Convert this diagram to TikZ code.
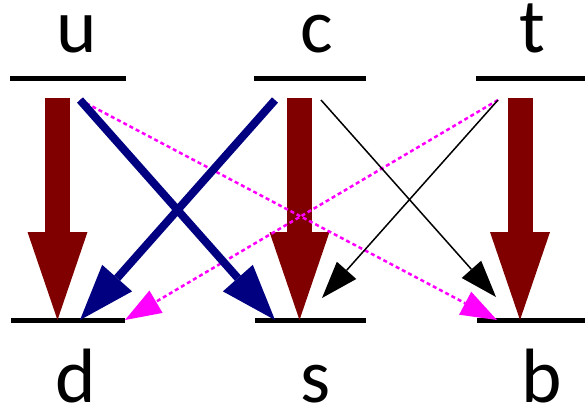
\documentclass[tikz,border=0pt]{standalone}
\usepackage{fontspec}
\setmainfont{Carlito}
\usetikzlibrary{arrows.meta}
\definecolor{fatred}{RGB}{128,0,0}
\definecolor{navyb}{RGB}{0,0,128}
\definecolor{magen}{RGB}{255,0,255}
\tikzset{
  level/.style={line width=5pt},
  lbl/.style={font=\fontsize{77}{77}\selectfont, inner sep=0pt, anchor=base, text height=44pt, text depth=0pt},
  fat/.style={fatred, line width=25pt, -{Triangle[length=88pt,width=60pt,line width=0pt]}},
  blue/.style={navyb, line width=8pt, -{Triangle[length=56pt,width=40pt,line width=0pt]}},
  thin/.style={black, line width=1.5pt, -{Triangle[length=37pt,width=26pt,line width=0pt]}},
  mag/.style={magen, line width=2.5pt, dash pattern=on 4pt off 3pt, -{Triangle[length=36pt,width=26pt,line width=0pt]}}
}
\begin{document}
\begin{tikzpicture}[x=1pt,y=-1pt]
\useasboundingbox (0,0) rectangle (585,405);
% levels
\coordinate (uL) at (10,78); \coordinate (uR) at (126,78);
\coordinate (cL) at (254,78); \coordinate (cR) at (366,78);
\coordinate (tL) at (476,78); \coordinate (tR) at (585,78);
\coordinate (dL) at (11,320); \coordinate (dR) at (125,320);
\coordinate (sL) at (255,320); \coordinate (sR) at (366,320);
\coordinate (bL) at (477,320); \coordinate (bR) at (585,320);
\draw[level] (uL) -- (uR);
\draw[level] (cL) -- (cR);
\draw[level] (tL) -- (tR);
\draw[level] (dL) -- (dR);
\draw[level] (sL) -- (sR);
\draw[level] (bL) -- (bR);
% labels
\node[lbl] (u) at (77,52) {u};
\node[lbl] (c) at (317,52) {c};
\node[lbl] (t) at (532,52) {t};
\node[lbl] (d) at (76,402) {d};
\node[lbl] (s) at (316,402) {s};
\node[lbl] (b) at (542,402) {b};
% arrow end points
\coordinate (u0) at (57.5,98); \coordinate (d0) at (57.5,320);
\coordinate (c0) at (299.5,98); \coordinate (s0) at (299.5,320);
\coordinate (t0) at (520,98); \coordinate (b0) at (520,320);
\coordinate (ub) at (80,100); \coordinate (sb) at (275,320);
\coordinate (cb) at (275,100); \coordinate (db) at (80,320);
\coordinate (ck) at (321,100); \coordinate (bk) at (496,297);
\coordinate (tk) at (498,100); \coordinate (sk) at (322,298);
\coordinate (um) at (80,100); \coordinate (bm) at (497,320);
\coordinate (tm) at (498,100); \coordinate (dm) at (125,320);
% fat arrows
\draw[fat] (u0) -- (d0);
\draw[fat] (c0) -- (s0);
\draw[fat] (t0) -- (b0);
% dashed magenta
\draw[mag] (um) -- (bm);
\draw[mag] (tm) -- (dm);
% thin black
\draw[thin] (ck) -- (bk);
\draw[thin] (tk) -- (sk);
% blue
\draw[blue] (ub) -- (sb);
\draw[blue] (cb) -- (db);
\end{tikzpicture}
\end{document}
